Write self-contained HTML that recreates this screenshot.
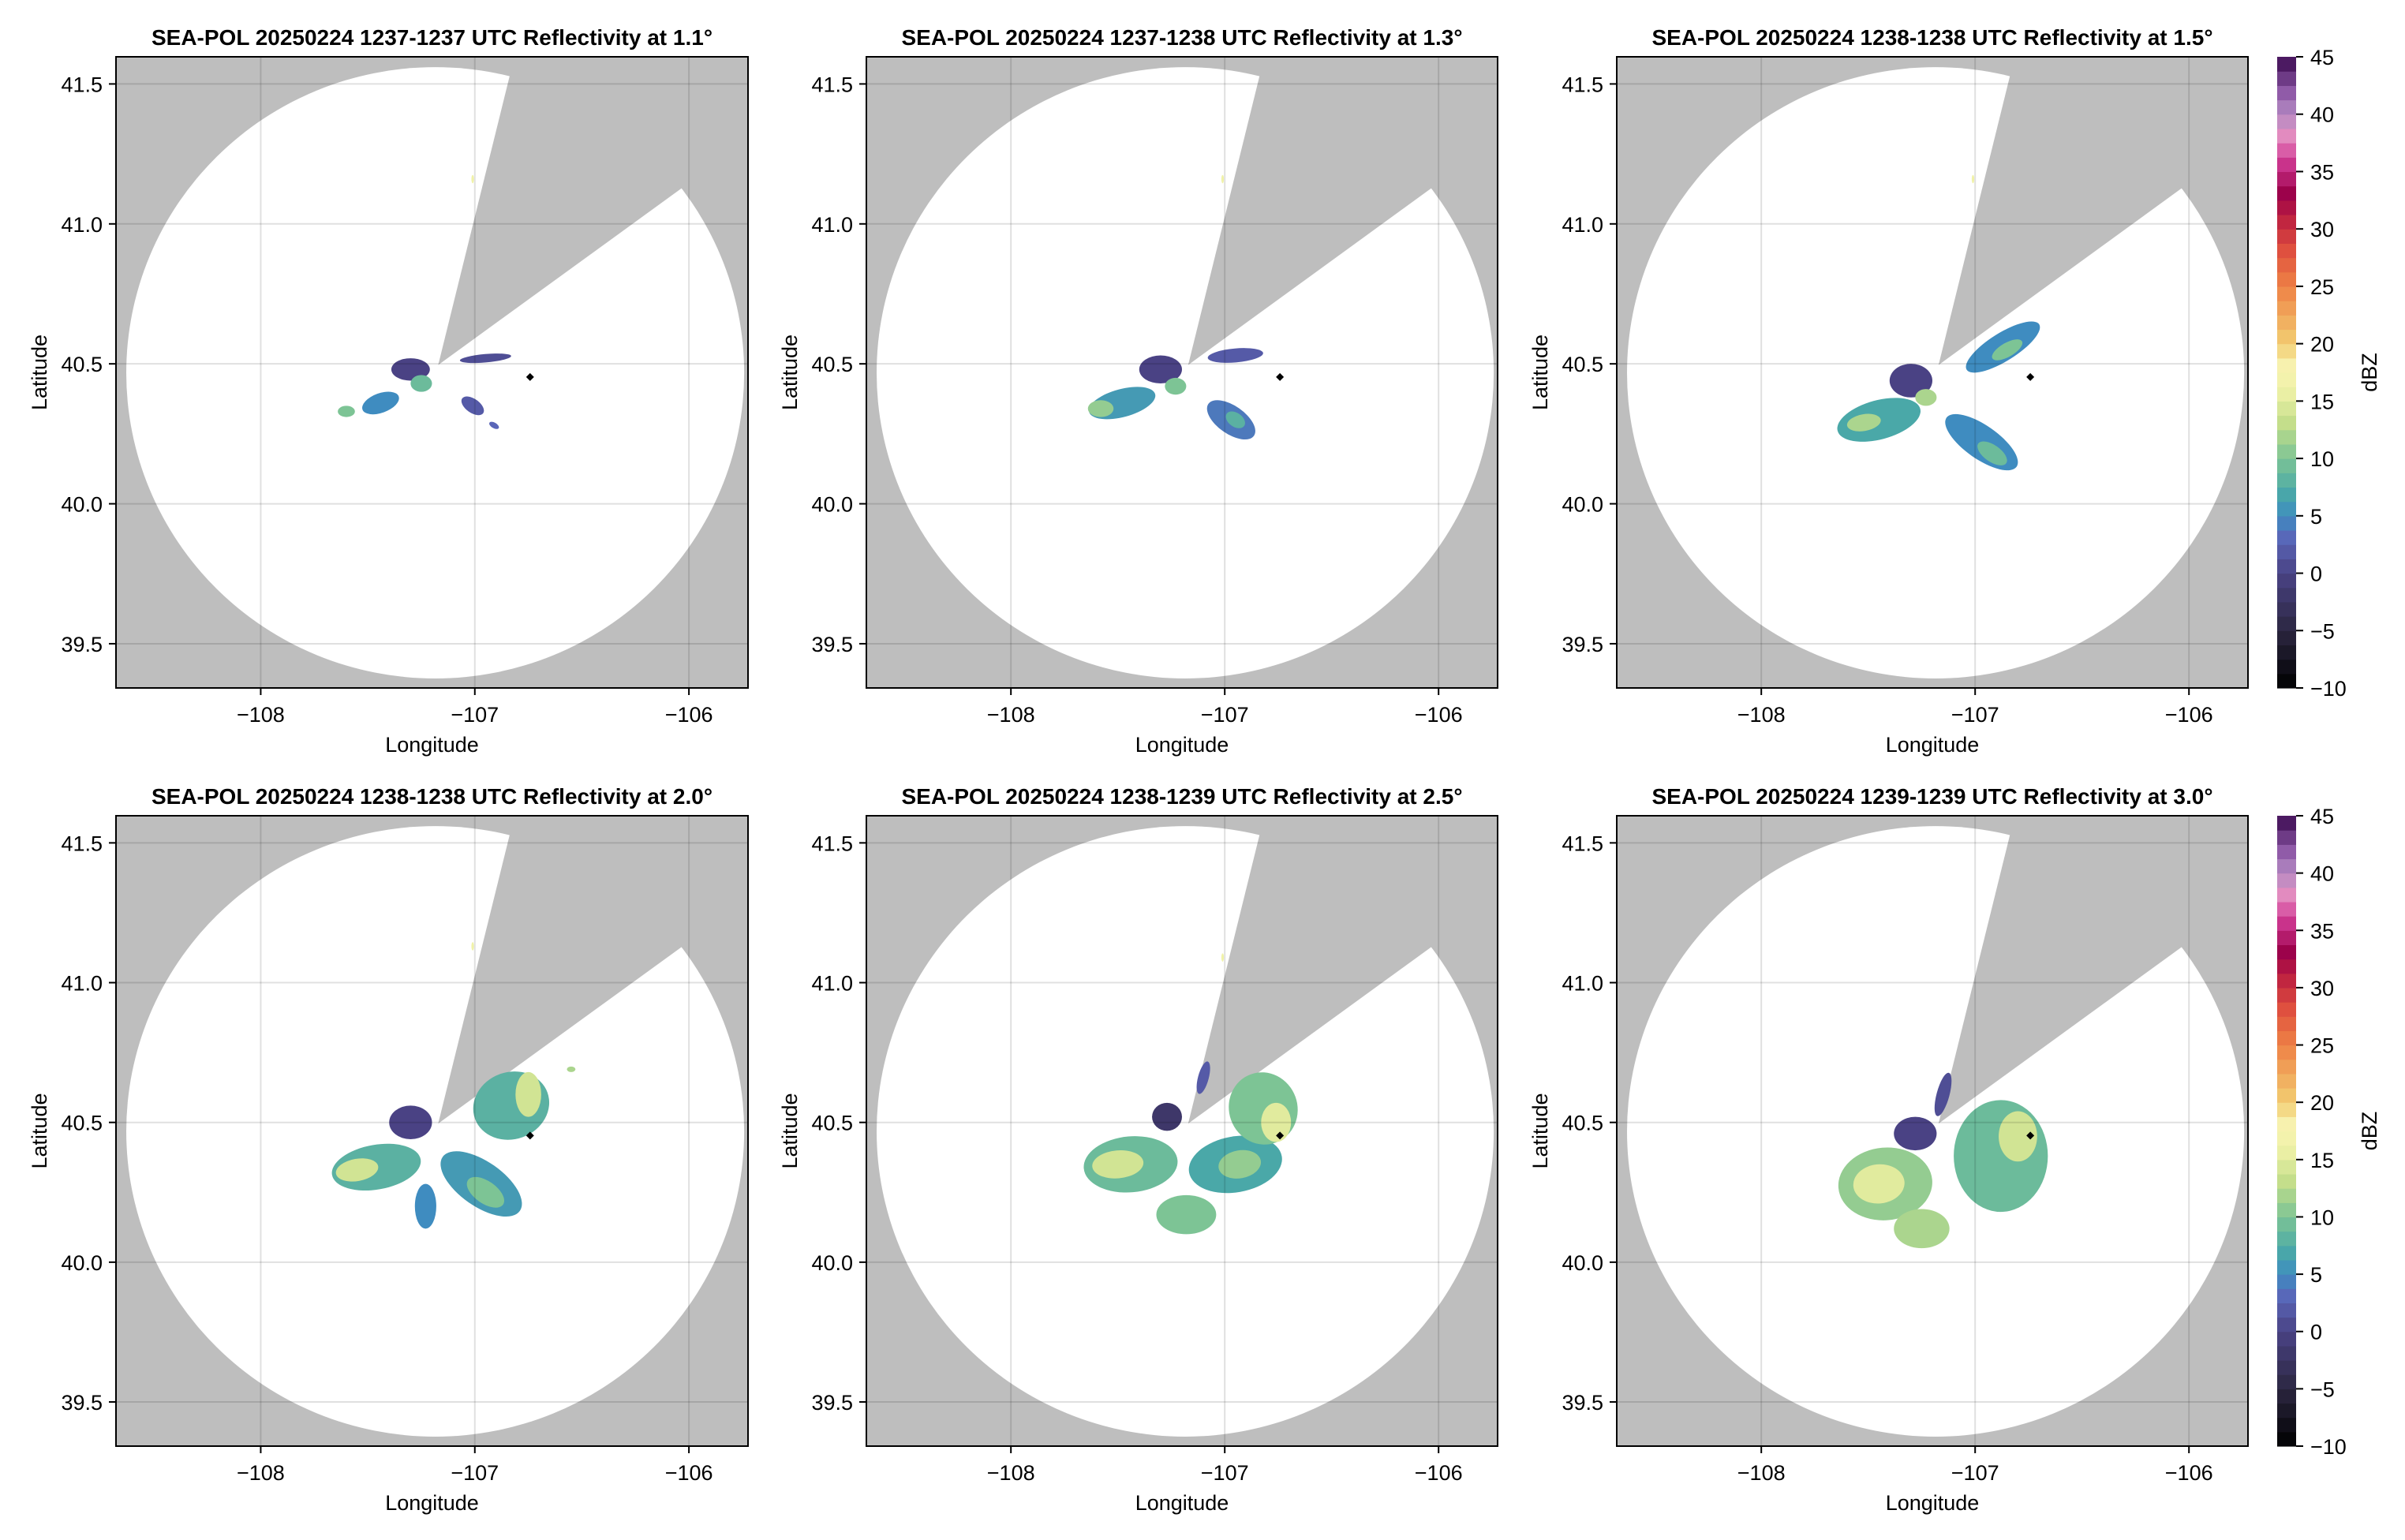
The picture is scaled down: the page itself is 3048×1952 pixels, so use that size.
<!DOCTYPE html>
<html><head><meta charset="utf-8"><style>
html,body{margin:0;padding:0;background:#fff;}
svg{display:block;font-family:"Liberation Sans",Arial,sans-serif;}
</style></head><body>
<svg id="fig" width="3048" height="1952" viewBox="0 0 3048 1952" xmlns="http://www.w3.org/2000/svg"></svg>
<script>
// ---- data ----
const titles = [
 "SEA-POL 20250224 1237-1237 UTC Reflectivity at 1.1°",
 "SEA-POL 20250224 1237-1238 UTC Reflectivity at 1.3°",
 "SEA-POL 20250224 1238-1238 UTC Reflectivity at 1.5°",
 "SEA-POL 20250224 1238-1238 UTC Reflectivity at 2.0°",
 "SEA-POL 20250224 1238-1239 UTC Reflectivity at 2.5°",
 "SEA-POL 20250224 1239-1239 UTC Reflectivity at 3.0°"];
const lonTicks = [-108, -107, -106];
const lonTickLabels = ["−108", "−107", "−106"];
const latTicks = [39.5, 40.0, 40.5, 41.0, 41.5];
const latTickLabels = ["39.5", "40.0", "40.5", "41.0", "41.5"];
const cbTicks = [-10, -5, 0, 5, 10, 15, 20, 25, 30, 35, 40, 45];
const cbTickLabels = ["−10", "−5", "0", "5", "10", "15", "20", "25", "30", "35", "40", "45"];
const radarCenter = [-107.185, 40.468];
const radarRadius = [1.443, 1.092];
const wedgeApex = [-107.171, 40.496];
const wedgeRay1 = [-106.84, 41.52];
const wedgeRay2 = [-106.051, 41.118];
const shipMarker = [-106.742, 40.453];
// echo blobs: [lon, lat, radiusLon, radiusLat, rotationDeg, dBZ]
const echoes1 = [
 [-107.3,40.48,0.09,0.04,0,0],[-107.25,40.43,0.05,0.03,0,9],[-107.44,40.36,0.09,0.035,-20,5],
 [-107.6,40.33,0.04,0.02,0,10],[-106.95,40.52,0.12,0.015,-5,1],[-107.01,40.35,0.06,0.025,35,2],
 [-106.91,40.28,0.025,0.01,30,3],[-107.01,41.16,0.006,0.015,0,16]];
const echoes2 = [
 [-107.48,40.36,0.16,0.05,-15,6],[-107.58,40.34,0.06,0.03,0,11],[-107.3,40.48,0.1,0.05,0,0],
 [-107.23,40.42,0.05,0.03,0,10],[-106.95,40.53,0.13,0.025,-5,2],[-106.97,40.3,0.13,0.05,35,4],
 [-106.95,40.3,0.05,0.025,35,8],[-107.01,41.16,0.006,0.015,0,16]];
const echoes3 = [
 [-107.45,40.3,0.2,0.07,-15,7],[-107.52,40.29,0.08,0.03,-10,12],[-107.3,40.44,0.1,0.06,0,0],
 [-107.23,40.38,0.05,0.03,0,12],[-106.87,40.56,0.2,0.05,-32,5],[-106.85,40.55,0.08,0.025,-30,10],
 [-106.97,40.22,0.2,0.06,35,5],[-106.92,40.18,0.08,0.03,35,9],[-107.01,41.16,0.006,0.015,0,16]];
const echoes4 = [
 [-107.46,40.34,0.21,0.08,-10,8],[-107.55,40.33,0.1,0.04,-10,14],[-107.3,40.5,0.1,0.06,0,0],
 [-106.83,40.56,0.18,0.12,-20,8],[-106.75,40.6,0.06,0.08,0,14],[-106.97,40.28,0.22,0.08,35,6],
 [-106.95,40.25,0.1,0.04,35,10],[-107.23,40.2,0.05,0.08,0,5],[-106.55,40.69,0.02,0.01,0,12],
 [-107.01,41.13,0.006,0.015,0,16]];
const echoes5 = [
 [-107.44,40.35,0.22,0.1,-5,9],[-107.5,40.35,0.12,0.05,-5,14],[-107.18,40.17,0.14,0.07,0,10],
 [-106.95,40.35,0.22,0.1,-10,7],[-106.93,40.35,0.1,0.05,-10,11],[-106.82,40.55,0.16,0.13,-20,10],
 [-106.76,40.5,0.07,0.07,0,15],[-107.27,40.52,0.07,0.05,0,-2],[-107.1,40.66,0.025,0.06,15,2],
 [-107.01,41.09,0.006,0.015,0,16]];
const echoes6 = [
 [-107.42,40.28,0.22,0.13,-5,11],[-107.45,40.28,0.12,0.07,-5,15],[-107.25,40.12,0.13,0.07,0,12],
 [-106.88,40.38,0.22,0.2,0,9],[-106.8,40.45,0.09,0.09,0,14],[-107.28,40.46,0.1,0.06,0,0],
 [-107.15,40.6,0.03,0.08,15,1]];
const allEchoes = [echoes1, echoes2, echoes3, echoes4, echoes5, echoes6];
// colormap control points (dBZ, color)
const cmapVals = [-10,-5,0,3,5,7,10,13,16,18,20,25,28,31,33,36,38,40,42,45];
const cmapCols = ["#000000","#2b2640","#4a4284","#5a66b8","#3f8cc0","#4aa8a8","#7dc495","#c2dd8a","#f0f2a8","#f7f3b2","#f2cd72","#ee8245","#e0523f","#bd2040","#9a0048","#d03a94","#e58bbf","#b58cc4","#8d58a6","#3b0a50"];

// ---- layout ----
const cols = [{x:147,w:801},{x:1098,w:800},{x:2049,w:800}];
const rows = [{y:72,h:800},{y:1034,h:799}];
const lonMin=-108.676, lonMax=-105.724, latMin=39.342, latMax=41.597;
const NS="http://www.w3.org/2000/svg";
const svg=document.getElementById('fig');
function mk(tag,attrs,parent){const e=document.createElementNS(NS,tag);for(const k in attrs)e.setAttribute(k,attrs[k]);(parent||svg).appendChild(e);return e;}
function hex(c){return [parseInt(c.substr(1,2),16),parseInt(c.substr(3,2),16),parseInt(c.substr(5,2),16)];}
function cmap(v){
 if(v<=cmapVals[0])return cmapCols[0];
 for(let i=1;i<cmapVals.length;i++){if(v<=cmapVals[i]){const t=(v-cmapVals[i-1])/(cmapVals[i]-cmapVals[i-1]);const a=hex(cmapCols[i-1]),b=hex(cmapCols[i]);return `rgb(${Math.round(a[0]+(b[0]-a[0])*t)},${Math.round(a[1]+(b[1]-a[1])*t)},${Math.round(a[2]+(b[2]-a[2])*t)})`;}}
 return cmapCols[cmapCols.length-1];}

for(let p=0;p<6;p++){
 const c=cols[p%3], r=rows[Math.floor(p/3)];
 const X=lon=>c.x+(lon-lonMin)/(lonMax-lonMin)*c.w;
 const Y=lat=>r.y+(latMax-lat)/(latMax-latMin)*r.h;
 const g=mk('g',{});
 
 
 const cp=mk('clipPath',{id:'clip'+p},g);
 mk('rect',{x:c.x,y:r.y,width:c.w,height:r.h},cp);
 const inner=mk('g',{'clip-path':'url(#clip'+p+')'},g);
 const bg=mk('rect',{x:c.x,y:r.y,width:c.w,height:r.h,fill:'#bebebe'},inner);
 
 
 const cov=mk('ellipse',{cx:X(radarCenter[0]),cy:Y(radarCenter[1]),rx:X(radarCenter[0]+radarRadius[0])-X(radarCenter[0]),ry:Y(radarCenter[1]-radarRadius[1])-Y(radarCenter[1]),fill:'#fff'},inner);
 
 
 const ax=X(wedgeApex[0]),ay=Y(wedgeApex[1]);
 const e1x=ax+3*(X(wedgeRay1[0])-ax),e1y=ay+3*(Y(wedgeRay1[1])-ay);
 const e2x=ax+3*(X(wedgeRay2[0])-ax),e2y=ay+3*(Y(wedgeRay2[1])-ay);
 const wd=mk('polygon',{points:`${ax},${ay} ${e1x},${e1y} ${e2x},${e2y}`,fill:'#bebebe'},inner);
 
 
 allEchoes[p].forEach(b=>{
  const cx=X(b[0]),cy=Y(b[1]),rx=X(b[0]+b[2])-cx,ry=Y(b[1]-b[3])-cy;
  const el=mk('ellipse',{cx:cx,cy:cy,rx:rx,ry:ry,transform:`rotate(${b[4]} ${cx} ${cy})`,fill:cmap(b[5])},inner);
  
  
 });
 lonTicks.forEach(t=>{const l=mk('line',{x1:X(t),x2:X(t),y1:r.y,y2:r.y+r.h,stroke:'rgba(0,0,0,0.12)','stroke-width':2},inner);});
 latTicks.forEach(t=>{const l=mk('line',{x1:c.x,x2:c.x+c.w,y1:Y(t),y2:Y(t),stroke:'rgba(0,0,0,0.12)','stroke-width':2},inner);});
 const sx=X(shipMarker[0]),sy=Y(shipMarker[1]);
 const sm=mk('polygon',{points:`${sx},${sy-5} ${sx+5},${sy} ${sx},${sy+5} ${sx-5},${sy}`,fill:'#000'},inner);
 
 
 const fr=mk('rect',{x:c.x,y:r.y,width:c.w,height:r.h,fill:'none',stroke:'#000','stroke-width':2},g);
 
 
 lonTicks.forEach((t,i)=>{
  mk('line',{x1:X(t),x2:X(t),y1:r.y+r.h,y2:r.y+r.h+9,stroke:'#000','stroke-width':2},g);
  const tx=mk('text',{x:X(t),y:r.y+r.h+43,'font-size':27,'text-anchor':'middle'},g);tx.textContent=lonTickLabels[i];
  
  
 });
 latTicks.forEach((t,i)=>{
  mk('line',{x1:c.x-9,x2:c.x,y1:Y(t),y2:Y(t),stroke:'#000','stroke-width':2},g);
  const tx=mk('text',{x:c.x-17,y:Y(t)+10,'font-size':27,'text-anchor':'end'},g);tx.textContent=latTickLabels[i];
  
  
 });
 const ti=mk('text',{x:c.x+c.w/2,y:r.y-15,'font-size':28,'font-weight':'bold','text-anchor':'middle'},g);ti.textContent=titles[p];
 
 
 const xl=mk('text',{x:c.x+c.w/2,y:r.y+r.h+81,'font-size':27,'text-anchor':'middle'},g);xl.textContent='Longitude';
 
 
 const ly=r.y+r.h/2;
 const yl=mk('text',{x:c.x-88,y:ly,'font-size':27,'text-anchor':'middle',transform:`rotate(-90 ${c.x-88} ${ly})`},g);yl.textContent='Latitude';
 
 
}
// colorbars
rows.forEach((r,ri)=>{
 const g=mk('g',{});
 
 
 const x0=2886,w=24,n=44,vmin=-10,vmax=45;
 const Yc=v=>r.y+(vmax-v)/(vmax-vmin)*r.h;
 for(let i=0;i<n;i++){const v0=vmin+i*(vmax-vmin)/n,v1=vmin+(i+1)*(vmax-vmin)/n;
  const s=mk('rect',{x:x0,y:Yc(v1),width:w,height:Yc(v0)-Yc(v1)+0.6,fill:cmap((v0+v1)/2)},g);
  
  }
 cbTicks.forEach((t,i)=>{
  mk('line',{x1:x0+w,x2:x0+w+9,y1:Yc(t),y2:Yc(t),stroke:'#000','stroke-width':2},g);
  const tx=mk('text',{x:x0+w+18,y:Yc(t)+10,'font-size':27},g);tx.textContent=cbTickLabels[i];
  
  
 });
 const ly=r.y+r.h/2;
 const lb=mk('text',{x:3012,y:ly,'font-size':27,'text-anchor':'middle',transform:`rotate(-90 3012 ${ly})`},g);lb.textContent='dBZ';
 
 
});
</script>
</body></html>
